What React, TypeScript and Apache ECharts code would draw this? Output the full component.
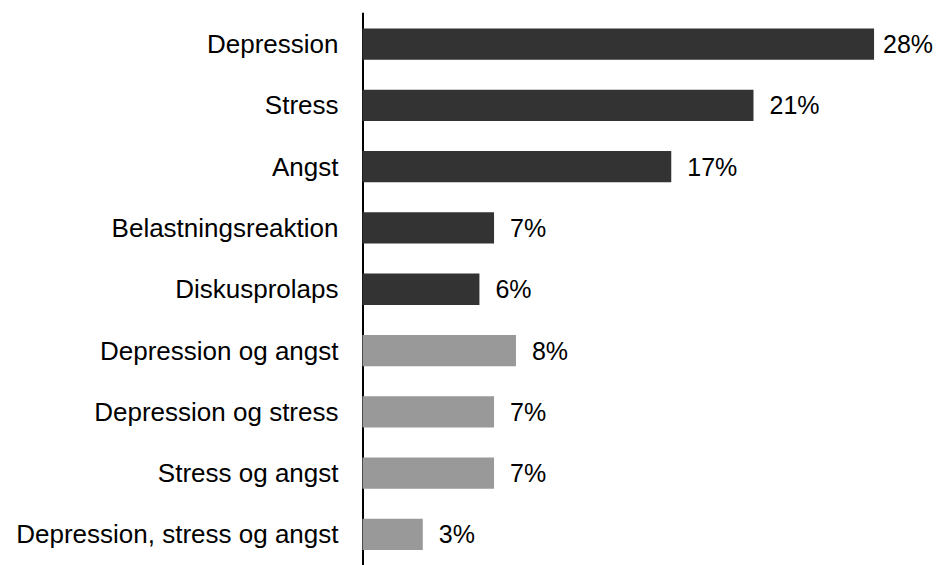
import React, { useEffect, useRef } from "react";
import * as echarts from "echarts";

const categories = [
  "Depression",
  "Stress",
  "Angst",
  "Belastningsreaktion",
  "Diskusprolaps",
  "Depression og angst",
  "Depression og stress",
  "Stress og angst",
  "Depression, stress og angst",
];
const values = [28.0, 21.4, 16.9, 7.2, 6.4, 8.4, 7.2, 7.2, 3.3];
const groups = ["single", "single", "single", "single", "single", "combo", "combo", "combo", "combo"];

const groupColors: Record<string, string> = { single: "#333333", combo: "#999999" };
const FONT = "'Liberation Sans', Arial, Helvetica, sans-serif";

export default function App() {
  const ref = useRef<HTMLDivElement>(null);
  useEffect(() => {
    if (!ref.current) return;
    const chart = echarts.init(ref.current, undefined, { renderer: "svg" });
    chart.setOption({
      animation: false,
      backgroundColor: "#ffffff",
      grid: { left: 362.5, top: 13.5, width: 548.1, height: 559, containLabel: false },
      xAxis: {
        type: "value",
        min: 0,
        max: 30,
        show: false,
      },
      yAxis: {
        type: "category",
        inverse: true,
        data: categories,
        axisLine: { show: true, lineStyle: { color: "#000000", width: 2 } },
        axisTick: { show: false },
        axisLabel: { color: "#000000", fontSize: 26, fontFamily: FONT, margin: 24 },
        splitLine: { show: false },
      },
      series: [
        {
          type: "bar",
          barWidth: "51%",
          data: values.map((v, i) => ({
            value: v,
            itemStyle: { color: groupColors[groups[i]] },
            label: i === 0 ? { distance: 9 } : undefined,
          })),
          label: {
            show: true,
            position: "right",
            distance: 16,
            color: "#000000",
            fontSize: 25,
            fontFamily: FONT,
            formatter: (p: any) => `${Math.round(p.value)}%`,
          },
        },
      ],
    });
    return () => chart.dispose();
  }, []);
  return <div ref={ref} style={{ width: 936, height: 565, position: "absolute", left: 0, top: 0 }} />;
}
